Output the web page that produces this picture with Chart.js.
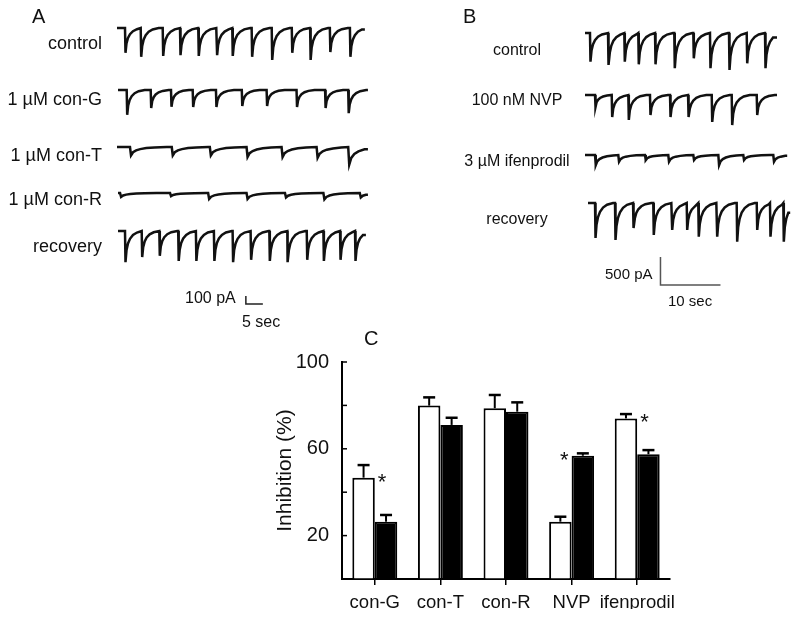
<!DOCTYPE html>
<html>
<head>
<meta charset="utf-8">
<script src="https://cdn.jsdelivr.net/npm/chart.js@4.4.0/dist/chart.umd.min.js"></script>
<style>
body { margin: 0; background: #fff; }
#wrap { position: relative; width: 800px; height: 618px; overflow: hidden; font-family: "Liberation Sans", Arial, sans-serif; color: #111; }
canvas { position: absolute; }
.lbl { position: absolute; white-space: nowrap; line-height: 1; }
.r { transform: translate(-100%, -50%); }
.c { transform: translate(-50%, -50%); }
.l { transform: translate(0, -50%); }
</style>
</head>
<body>
<div id="wrap">
  <canvas id="barChart" width="800" height="618" style="left:0;top:0"></canvas>

  <!-- panel A -->
  <div class="lbl l" style="left:32px;top:16px;font-size:20px">A</div>
  <div class="lbl r" style="left:102px;top:43px;font-size:18px">control</div>
  <div class="lbl r" style="left:102px;top:99px;font-size:18px">1 µM con-G</div>
  <div class="lbl r" style="left:102px;top:155px;font-size:18px">1 µM con-T</div>
  <div class="lbl r" style="left:102px;top:199px;font-size:18px">1 µM con-R</div>
  <div class="lbl r" style="left:102px;top:246px;font-size:18px">recovery</div>
  <div class="lbl l" style="left:185px;top:298px;font-size:16px">100 pA</div>
  <div class="lbl l" style="left:242px;top:322px;font-size:16px">5 sec</div>

  <!-- panel B -->
  <div class="lbl l" style="left:463px;top:16px;font-size:20px">B</div>
  <div class="lbl c" style="left:517px;top:50px;font-size:16px">control</div>
  <div class="lbl c" style="left:517px;top:100px;font-size:16px">100 nM NVP</div>
  <div class="lbl c" style="left:517px;top:161px;font-size:16px">3 µM ifenprodil</div>
  <div class="lbl c" style="left:517px;top:219px;font-size:16px">recovery</div>
  <div class="lbl l" style="left:605px;top:273px;font-size:15px">500 pA</div>
  <div class="lbl l" style="left:668px;top:300px;font-size:15px">10 sec</div>

  <!-- panel C -->
  <div class="lbl l" style="left:364px;top:338px;font-size:20px">C</div>
</div>

<script>
// ---- Panel C data ----
const groups = ['con-G', 'con-T', 'con-R', 'NVP', 'ifenprodil'];
const openMean = [46.7, 79.9, 78.7, 26.4, 74.0];
const openErr = [5.8, 3.8, 6.1, 2.3, 2.0];
const filledMean = [26.4, 71.0, 77.1, 56.8, 57.5];
const filledErr = [3.1, 3.3, 4.3, 1.1, 1.9];
const starred = [true, false, false, true, true];
const yTickLabels = [20, 60, 100];

// ---- Panel A traces: event times (s) and peak amplitudes (pA) ----
const ctrlA_t = [2.35, 6.97, 13.44, 18.53, 23.9, 29.3, 33.9, 39.6, 45.5, 51.4, 56.8, 62.6, 68.5];
const ctrlA_amp = [310, 360, 350, 340, 350, 340, 350, 360, 400, 310, 400, 300, 360];
const conG_t = [2.85, 9.91, 15.88, 22.26, 29.1, 36.7, 44.0, 52.8, 61.2, 68.0];
const conG_amp = [310, 225, 210, 212, 212, 200, 200, 212, 225, 290];
const conT_t = [3.82, 16.1, 27.3, 38.1, 48.4, 58.7, 68.0];
const conT_amp = [105, 105, 105, 125, 125, 135, 220];
const conR_t = [0.9, 15.6, 26.8, 38.1, 49.4, 60.7, 71.4];
const conR_amp = [50, 40, 75, 75, 55, 80, 55];
const recA_t = [2.35, 7.26, 12.44, 18.0, 23.2, 28.5, 34.0, 39.3, 44.8, 50.1, 55.8, 60.7, 65.6, 70.0];
const recA_amp = [390, 325, 310, 375, 375, 375, 390, 360, 375, 390, 360, 375, 360, 375];

// ---- Panel B traces ----
const ctrlB_t = [0.83, 3.88, 6.55, 8.88, 11.67, 14.88, 18.05, 20.83, 24.0, 26.95, 30.0];
const ctrlB_amp = [512, 571, 512, 559, 559, 630, 452, 630, 660, 541, 630];
const nvp_t = [1.67, 4.45, 7.22, 10.83, 14.17, 17.22, 21.12, 24.45, 28.62];
const nvp_amp = [214, 393, 446, 357, 393, 393, 482, 536, 357];
const ifen_t = [1.67, 5.55, 10.0, 13.88, 18.05, 22.22, 26.38, 31.38];
const ifen_amp = [180, 120, 90, 120, 90, 180, 90, 120];
const recB_t = [1.67, 5.0, 8.05, 11.38, 14.45, 16.95, 18.88, 21.95, 25.28, 28.62, 30.83, 33.05];
const recB_amp = [625, 660, 446, 571, 482, 482, 602, 602, 691, 482, 602, 691];

// scale bars: [time, pA] corner points
const scaleBarA = [[37.9, -812], [37.9, -912], [42.9, -912]];
const scaleBarB = [[12.58, -964], [12.58, -1464], [22.58, -1464]];

// EPSC shape: [time in units of tau, fraction of peak]
const KERNEL = [[0, 0], [0.5, -1], [1.5, -0.62], [3, -0.4], [5, -0.25], [8, -0.13], [12, -0.05], [18, 0]];

Chart.defaults.font.family = '"Liberation Sans", Arial, sans-serif';
Chart.defaults.color = '#111';

function buildTrace(times, amps, start, end, tau) {
    const pts = [{ x: start, y: 0 }];
    times.forEach((t, i) => {
        const next = i < times.length - 1 ? times[i + 1] : end;
        KERNEL.forEach(([u, f]) => {
            const x = t + u * tau;
            if (x < next) pts.push({ x: x, y: f * amps[i] });
        });
    });
    pts.push({ x: end, y: pts[pts.length - 1].y });
    return pts;
}

const wrap = document.getElementById('wrap');

function drawTrace(left, top, w, h, xMax, yMin, yMax, pts, bar, barColor) {
    const c = document.createElement('canvas');
    c.width = w; c.height = h;
    c.style.left = left + 'px';
    c.style.top = top + 'px';
    wrap.appendChild(c);
    const datasets = [{ data: pts, borderColor: '#111', borderWidth: 2.5, pointRadius: 0, tension: 0, clip: false }];
    if (bar) {
        datasets.push({
            data: bar.map(p => ({ x: p[0], y: p[1] })),
            borderColor: barColor, borderWidth: 1.5, pointRadius: 0, tension: 0, clip: false
        });
    }
    new Chart(c, {
        type: 'line',
        data: { datasets: datasets },
        options: {
            responsive: false, animation: false, events: [],
            layout: { padding: 0 },
            plugins: { legend: { display: false }, tooltip: { enabled: false } },
            scales: {
                x: { type: 'linear', display: false, min: 0, max: xMax },
                y: { display: false, min: yMin, max: yMax }
            }
        }
    });
}

// panel A: 3.4 px per s, 0.08 px per pA
const tauA = 0.294, tauSlow = 0.6;
drawTrace(117, 22, 251, 50, 73.82, -550, 75, buildTrace(ctrlA_t, ctrlA_amp, 0, 72.9, tauA));
drawTrace(117, 84, 251, 50, 73.82, -550, 75, buildTrace(conG_t, conG_amp, 0.3, 73.8, tauA));
drawTrace(117, 141, 251, 50, 73.82, -550, 75, buildTrace(conT_t, conT_amp, 0, 73.8, tauSlow));
drawTrace(117, 187, 251, 50, 73.82, -550, 75, buildTrace(conR_t, conR_amp, 0.3, 73.8, tauSlow));
drawTrace(117, 225, 251, 85, 73.82, -987.5, 75, buildTrace(recA_t, recA_amp, 0.3, 73.2, tauA), scaleBarA, '#222');

// panel B: 6 px per s, 0.056 px per pA
const tauB = 0.167;
drawTrace(585, 27, 210, 50, 35, -785.7, 107.1, buildTrace(ctrlB_t, ctrlB_amp, 0, 32, tauB));
drawTrace(585, 89, 210, 50, 35, -785.7, 107.1, buildTrace(nvp_t, nvp_amp, 0, 32, tauB));
drawTrace(585, 149, 210, 50, 35, -785.7, 107.1, buildTrace(ifen_t, ifen_amp, 0, 33.7, 0.25));
drawTrace(585, 197, 210, 95, 35, -1589, 107.1, buildTrace(recB_t, recB_amp, 0.5, 34.2, tauB), scaleBarB, '#555');

// ---- Panel C ----
const errorBars = {
    id: 'errorBars',
    afterDatasetsDraw(chart) {
        const ctx = chart.ctx;
        const y = chart.scales.y;
        const area = chart.chartArea;
        const errs = [openErr, filledErr];
        const means = [openMean, filledMean];
        ctx.save();
        ctx.strokeStyle = '#000';
        chart.data.datasets.forEach((ds, d) => {
            chart.getDatasetMeta(d).data.forEach((bar, i) => {
                const top = y.getPixelForValue(means[d][i] + errs[d][i]);
                ctx.lineWidth = 2;
                ctx.beginPath();
                ctx.moveTo(bar.x, bar.y);
                ctx.lineTo(bar.x, top);
                ctx.stroke();
                ctx.lineWidth = 2.5;
                ctx.beginPath();
                ctx.moveTo(bar.x - 6, top);
                ctx.lineTo(bar.x + 6, top);
                ctx.stroke();
            });
        });
        // inward tick marks on the y axis
        ctx.lineWidth = 1.5;
        [20, 40, 60, 80, 100].forEach(v => {
            const py = y.getPixelForValue(v);
            ctx.beginPath();
            ctx.moveTo(area.left, py);
            ctx.lineTo(area.left + 5, py);
            ctx.stroke();
        });
        // significance stars
        ctx.fillStyle = '#111';
        ctx.font = '22px "Liberation Sans", Arial, sans-serif';
        ctx.textAlign = 'center';
        ctx.textBaseline = 'alphabetic';
        starred.forEach((s, i) => {
            if (!s) return;
            const hi = openMean[i] > filledMean[i] ? 0 : 1;
            const lo = 1 - hi;
            const barLo = chart.getDatasetMeta(lo).data[i];
            const barHi = chart.getDatasetMeta(hi).data[i];
            const edge = (barLo.x + barHi.x) / 2;
            const sx = barLo.x + 0.35 * (edge - barLo.x);
            ctx.fillText('*', sx, barHi.y + 11);
        });
        ctx.restore();
    }
};

new Chart(document.getElementById('barChart'), {
    type: 'bar',
    data: {
        labels: groups,
        datasets: [
            { data: openMean, backgroundColor: '#fff', borderColor: '#000', borderWidth: 2 },
            { data: filledMean, backgroundColor: '#000', borderColor: '#000', borderWidth: 2 }
        ]
    },
    options: {
        responsive: false,
        animation: false,
        events: [],
        layout: { padding: { left: 273, top: 362, right: 130, bottom: 9 } },
        datasets: { bar: { categoryPercentage: 0.685, barPercentage: 1 } },
        plugins: { legend: { display: false }, tooltip: { enabled: false } },
        scales: {
            x: {
                grid: { drawOnChartArea: false, offset: false, tickLength: 6, color: '#000', lineWidth: 1.5 },
                border: { color: '#000', width: 2 },
                ticks: { color: '#111', font: { size: 18.5 }, padding: 7, maxRotation: 0, autoSkip: false },
                afterFit: s => { s.height = 30; }
            },
            y: {
                min: 0, max: 100,
                grid: { drawOnChartArea: false, drawTicks: false },
                border: { color: '#000', width: 2 },
                ticks: {
                    stepSize: 20, padding: 13, color: '#111', font: { size: 20 },
                    callback: v => yTickLabels.includes(v) ? v : ''
                },
                title: { display: true, text: 'Inhibition (%)', color: '#111', font: { size: 21 }, padding: 0 },
                afterFit: s => { s.width = 69; }
            }
        }
    },
    plugins: [errorBars]
});
</script>
</body>
</html>
